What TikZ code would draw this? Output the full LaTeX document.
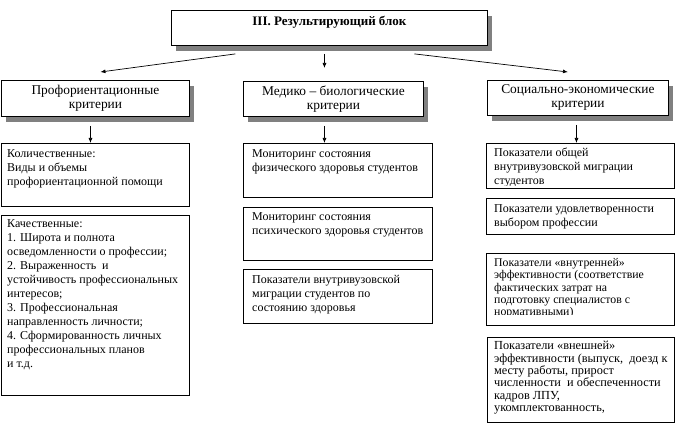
\documentclass[tikz,border=0pt]{standalone}
\usepackage{fontspec}
\setmainfont{Liberation Serif}
\usetikzlibrary{arrows.meta,shadows}

\begin{document}
\begin{tikzpicture}[x=1pt,y=-1pt,
    head/.style={draw, fill=white, line width=0.9pt, anchor=north west, align=center, inner sep=0,
      font=\fontsize{13.4}{14}\selectfont,
      drop shadow={shadow xshift=5pt, shadow yshift=-6pt, fill=black!50, opacity=1}},
    cell/.style={draw, line width=0.9pt, anchor=north west, inner sep=0},
    txt/.style={anchor=north west, align=left, inner sep=0, font=\fontsize{12}{14}\selectfont},
    small/.style={txt, font=\fontsize{11.8}{12.4}\selectfont},
    wide/.style={txt, font=\fontsize{12.3}{12.4}\selectfont},
    arr/.style={-{Latex[length=5pt,width=4pt]}, line width=0.7pt}]
  \useasboundingbox (0,0) rectangle (681,428);

  % Result block
  \node[head, minimum width=316, minimum height=35] (res) at (171,10) {};
  \node[font=\bfseries\fontsize{13}{14}\selectfont] (restxt) at ([yshift=-12]res.north) {III. Результирующий блок};

  % Criteria headers
  \node[head, minimum width=188, minimum height=36] (prof) at (1,80) {Профориентационные\\критерии};
  \node[head, minimum width=180, minimum height=35] (med) at (243,81) {Медико -- биологические\\критерии};
  \node[head, minimum width=181, minimum height=35] (soc) at (487,80) {Социально-экономические\\критерии};

  \draw[arr] ([xshift=-94pt,yshift=-8pt]res.south) -- ([xshift=5pt,yshift=8pt]prof.north);
  \draw[arr] ([xshift=-5pt,yshift=-8pt]res.south) -- ([xshift=-9pt,yshift=13pt]med.north);
  \draw[arr] ([xshift=85pt,yshift=-8pt]res.south) -- ([xshift=-10pt,yshift=8pt]soc.north);

  % Profession criteria
  \node[cell, minimum width=188, minimum height=63] (kol) at (1,143) {};
  \node[txt] (kolt) at ([xshift=6pt,yshift=-6pt]kol.north west)
    {Количественные:\\Виды и объемы\\профориентационной помощи};
  \node[cell, minimum width=188, minimum height=180] (kach) at (1,215) {};
  \node[txt] (kacht) at ([xshift=6pt,yshift=-4pt]kach.north west)
    {Качественные:\\1. Широта и полнота\\осведомленности о профессии;\\2. Выраженность~ и\\устойчивость профессиональных\\интересов;\\3. Профессиональная\\направленность личности;\\4. Сформированность личных\\профессиональных планов\\и т.д.};
  \draw[arr] ([xshift=-5pt,yshift=-9pt]prof.south) -- ([xshift=-5pt]kol.north);

  % Medico-biological criteria
  \node[cell, minimum width=189, minimum height=54] (fiz) at (243,143) {};
  \node[txt] (fizt) at ([xshift=9pt,yshift=-6pt]fiz.north west)
    {Мониторинг состояния\\физического здоровья студентов};
  \node[cell, minimum width=189, minimum height=53] (psy) at (243,207) {};
  \node[txt] (psyt) at ([xshift=9pt,yshift=-5pt]psy.north west)
    {Мониторинг состояния\\психического здоровья студентов};
  \node[cell, minimum width=189, minimum height=54] (mig) at (243,269) {};
  \node[txt] (migt) at ([xshift=9pt,yshift=-6pt]mig.north west)
    {Показатели внутривузовской\\миграции студентов по\\состоянию здоровья};
  \draw[arr] ([xshift=-9pt,yshift=-9pt]med.south) -- ([xshift=-13.5pt]fiz.north);

  % Socio-economic criteria
  \node[cell, minimum width=188, minimum height=45] (obsh) at (486,143) {};
  \begin{scope}
    \clip (obsh.north west) rectangle ([yshift=3.5pt]obsh.south east);
    \node[txt] (obsht) at ([xshift=8pt,yshift=-5pt]obsh.north west)
      {Показатели общей\\внутривузовской миграции\\студентов};
  \end{scope}
  \node[cell, minimum width=188, minimum height=36] (udov) at (486,198) {};
  \node[txt] (udovt) at ([xshift=8pt,yshift=-6pt]udov.north west)
    {Показатели удовлетворенности\\выбором профессии};
  \node[cell, minimum width=188, minimum height=72] (vnut) at (486,253) {};
  \begin{scope}
    \clip (vnut.north west) rectangle ([yshift=11pt]vnut.south east);
    \node[small] (vnutt) at ([xshift=8pt,yshift=-5pt]vnut.north west)
      {Показатели «внутренней»\\эффективности (соответствие\\фактических затрат на\\подготовку специалистов с\\нормативными)};
  \end{scope}
  \node[cell, minimum width=187, minimum height=85] (vnesh) at (487,337) {};
  \node[wide] (vnesht) at ([xshift=7pt,yshift=-4pt]vnesh.north west)
    {Показатели «внешней»\\эффективности (выпуск,~ доезд к\\месту работы, прирост\\численности~ и обеспеченности\\кадров ЛПУ,\\укомплектованность,};
  \draw[arr] ([xshift=-1.5pt,yshift=-9pt]soc.south) -- ([xshift=-4pt]obsh.north);
\end{tikzpicture}
\end{document}
